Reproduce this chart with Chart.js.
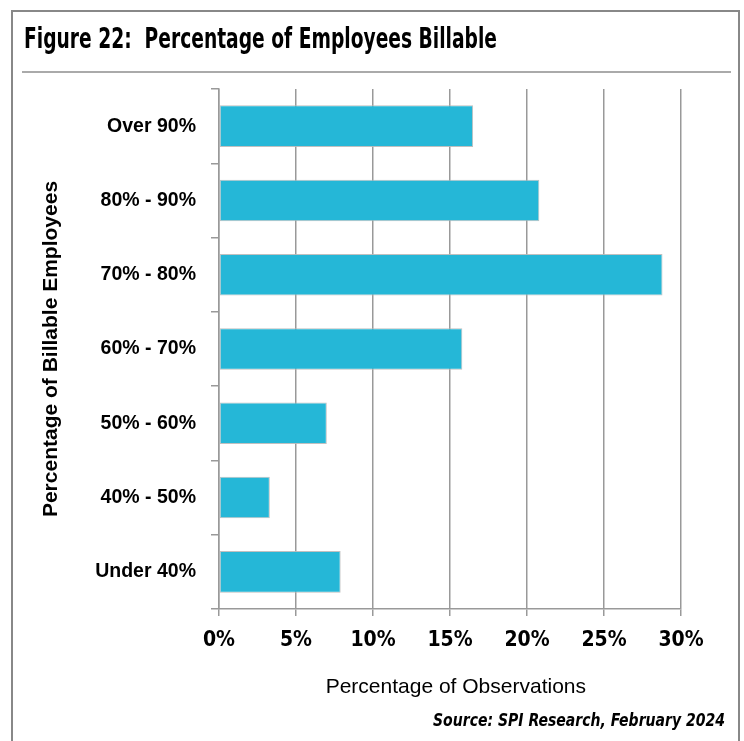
<!DOCTYPE html>
<html>
<head>
<meta charset="utf-8">
<script src="https://cdn.jsdelivr.net/npm/chart.js@4/dist/chart.umd.min.js"></script>
<style>
  html, body { margin: 0; padding: 0; background: #fff; }
  #wrap { width: 744px; height: 741px; position: relative; }
</style>
</head>
<body>
<div id="wrap"><canvas id="billableChart" width="744" height="741"></canvas></div>
<script>
const categories = ['Over 90%', '80% - 90%', '70% - 80%', '60% - 70%', '50% - 60%', '40% - 50%', 'Under 40%'];
const observations = [16.5, 20.8, 28.8, 15.8, 7.0, 3.3, 7.9];
const xTickValues = [0, 5, 10, 15, 20, 25, 30];

const titleText = 'Figure 22:  Percentage of Employees Billable';
const sourceText = 'Source: SPI Research, February 2024';

const narrow = "'Liberation Sans Narrow', 'DejaVu Sans Condensed', 'Arial Narrow', sans-serif";
const sans = "'Liberation Sans', Arial, sans-serif";
const axisGray = '#999999';

// draw text squeezed to a given width
function drawFitted(ctx, text, x, y, width, font, align) {
  ctx.save();
  ctx.font = font;
  const w = ctx.measureText(text).width;
  const sx = Math.min(1, width / w);
  const left = align === 'right' ? x - w * sx : x;
  ctx.translate(left, y);
  ctx.scale(sx, 1);
  ctx.textAlign = 'left';
  ctx.textBaseline = 'alphabetic';
  ctx.fillStyle = '#000';
  ctx.fillText(text, 0, 0);
  ctx.restore();
}

const framePlugin = {
  id: 'frame',
  beforeDraw(chart) {
    const ctx = chart.ctx;
    ctx.save();
    ctx.fillStyle = '#fff';
    ctx.fillRect(0, 0, chart.width, chart.height);

    // outer box, open at the bottom
    ctx.strokeStyle = '#888888';
    ctx.lineWidth = 2;
    ctx.beginPath();
    ctx.moveTo(12, 745);
    ctx.lineTo(12, 11);
    ctx.lineTo(739, 11);
    ctx.lineTo(739, 745);
    ctx.stroke();

    // rule under the heading
    ctx.strokeStyle = '#aaaaaa';
    ctx.beginPath();
    ctx.moveTo(22, 72);
    ctx.lineTo(731, 72);
    ctx.stroke();
    ctx.restore();

    drawFitted(ctx, titleText, 24, 48, 473, 'bold 29px ' + narrow, 'left');
    drawFitted(ctx, sourceText, 725, 726, 292, 'italic bold 18px ' + narrow, 'right');
  }
};

const ctx = document.getElementById('billableChart').getContext('2d');

new Chart(ctx, {
  type: 'bar',
  data: {
    labels: categories,
    datasets: [{
      label: 'Percentage of Observations',
      data: observations,
      backgroundColor: '#25b7d7',
      borderColor: 'rgba(185,185,185,0.9)',
      borderWidth: 1,
      borderSkipped: false,
      barPercentage: 0.56,
      categoryPercentage: 1.0
    }]
  },
  plugins: [framePlugin],
  options: {
    indexAxis: 'y',
    responsive: false,
    animation: false,
    layout: { padding: { left: 0, top: 89, right: 63, bottom: 0 } },
    plugins: {
      legend: { display: false },
      tooltip: { enabled: false }
    },
    scales: {
      x: {
        min: 0,
        max: 30,
        afterBuildTicks(scale) {
          scale.ticks = xTickValues.map(v => ({ value: v }));
        },
        afterFit(scale) { scale.height = 132; },
        grid: {
          color: axisGray,
          lineWidth: 1.5,
          tickLength: 7,
          drawTicks: true
        },
        border: { color: axisGray, width: 1.5 },
        ticks: {
          padding: 12,
          color: '#000',
          font: { family: narrow, size: 21, weight: 'bold' },
          callback: v => v + '%'
        },
        title: {
          display: true,
          text: '  Percentage of Observations',
          color: '#000',
          font: { family: sans, size: 21 },
          padding: { top: 0, bottom: 41 }
        }
      },
      y: {
        afterFit(scale) { scale.width = 219; },
        grid: {
          display: true,
          drawOnChartArea: false,
          offset: true,
          color: axisGray,
          lineWidth: 1.5,
          tickLength: 8
        },
        border: { color: axisGray, width: 1.5 },
        ticks: {
          padding: 15,
          color: '#000',
          font: { family: sans, size: 19.5, weight: 'bold' }
        },
        title: {
          display: true,
          text: 'Percentage of Billable Employees',
          color: '#000',
          font: { family: sans, size: 21, weight: 'bold' },
          padding: { top: 39, bottom: 0 }
        }
      }
    }
  }
});
</script>
</body>
</html>
